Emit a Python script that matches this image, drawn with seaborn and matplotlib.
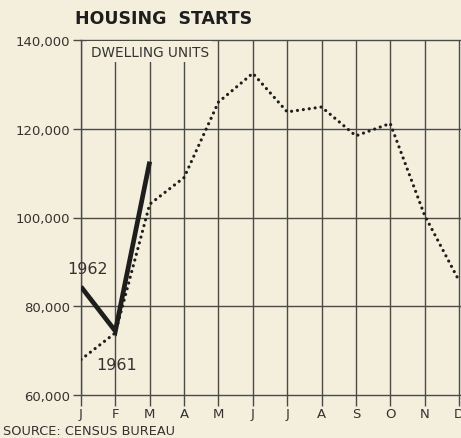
import matplotlib
matplotlib.use("Agg")
import matplotlib.pyplot as plt
import seaborn as sns
import pandas as pd

# Monthly housing starts (dwelling units)
months = ["J", "F", "M", "A", "M", "J", "J", "A", "S", "O", "N", "D"]
starts_1961 = [68000, 74000, 103000, 109000, 126000, 132500,
               123800, 124900, 118400, 121200, 100500, 85800]
starts_1962 = [84400, 74400, 112600]
y_ticks = [60000, 80000, 100000, 120000, 140000]

bg = "#f4eedd"
grid = "#4a4a46"
ink = "#1e1e1c"
txt = "#333330"

sns.set_theme(style="white")
plt.rcParams["font.family"] = ["DejaVu Sans"]

df61 = pd.DataFrame({"month": range(len(starts_1961)), "units": starts_1961})
df62 = pd.DataFrame({"month": range(len(starts_1962)), "units": starts_1962})

fig = plt.figure(figsize=(4.61, 4.39), dpi=100, facecolor=bg)
ax = fig.add_axes([81 / 461, 43 / 439, 380 / 461, 355 / 439], facecolor=bg)

sns.lineplot(data=df61, x="month", y="units", ax=ax, color=ink, lw=2.3,
             linestyle=(0, (0.01, 1.85)), dash_capstyle="round", zorder=3)
sns.lineplot(data=df62, x="month", y="units", ax=ax, color=ink, lw=3.4,
             solid_capstyle="butt", solid_joinstyle="miter", zorder=4)

ax.set_xlim(0, 11.06)
ax.set_ylim(60000, 140000)
ax.set_xticks(range(12))
ax.set_xticklabels(months)
ax.set_yticks(y_ticks)
ax.set_yticklabels([f"{v:,}" for v in y_ticks])
ax.set_xlabel("")
ax.set_ylabel("")

for v in y_ticks:
    ax.axhline(v, color=grid, lw=1.0, zorder=1, clip_on=False)
for i in range(12):
    ax.axvline(i, color=grid, lw=1.0, zorder=1)

for s in ["top", "right", "bottom"]:
    ax.spines[s].set_visible(False)
ax.spines["left"].set_color(grid)
ax.spines["left"].set_linewidth(1.0)

ax.tick_params(axis="y", length=6, width=1.0, color=grid, labelsize=9.5,
               labelcolor=txt, pad=2, left=True)
ax.tick_params(axis="x", length=8, width=1.0, color=grid, labelsize=9.5,
               labelcolor=txt, pad=1, bottom=True)

ax.text(0.28, 137400, "DWELLING UNITS", fontsize=9.8, color=txt,
        va="center", ha="left",
        bbox=dict(facecolor=bg, edgecolor="none", pad=2.5), zorder=5)
ax.text(0.2, 88600, "1962", fontsize=11.5, color=txt, ha="center", va="center")
ax.text(1.05, 66800, "1961", fontsize=11.5, color=txt, ha="center", va="center")

fig.text(75 / 461, 1 - 19 / 439, "HOUSING  STARTS", fontsize=12.5,
         fontweight="bold", color=ink, ha="left", va="center")
fig.text(3 / 461, 1 - 432 / 439, "SOURCE: CENSUS BUREAU", fontsize=9.3,
         color=txt, ha="left", va="center")

fig.savefig("out.png", dpi=100, facecolor=bg)
